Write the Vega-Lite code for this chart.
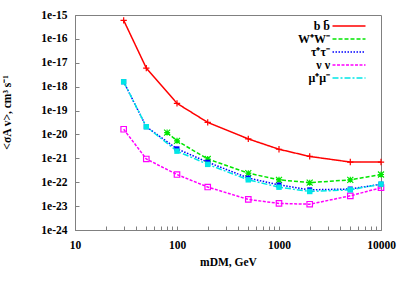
{
  "$schema": "https://vega.github.io/schema/vega-lite/v6.json",
  "width": 306,
  "height": 215,
  "autosize": "none",
  "padding": {"left": 75, "top": 15, "right": 22, "bottom": 53},
  "background": "white",
  "config": {
    "font": "Liberation Serif",
    "view": {"stroke": "#808080", "strokeWidth": 1},
    "axis": {
      "labelFont": "Liberation Serif",
      "labelFontWeight": "bold",
      "labelFontSize": 11.5,
      "labelColor": "black",
      "titleFont": "Liberation Serif",
      "titleFontWeight": "bold",
      "titleFontSize": 11.5,
      "titleColor": "black",
      "grid": false,
      "domainColor": "#808080",
      "tickColor": "#808080",
      "tickSize": -4
    },
    "legend": {
      "labelFont": "Liberation Serif",
      "labelFontWeight": "bold",
      "labelFontSize": 12.5,
      "labelColor": "black"
    }
  },
  "encoding": {
    "x": {
      "field": "m", "type": "quantitative",
      "scale": {"type": "log", "domain": [10, 10000], "nice": false},
      "axis": {
        "title": "mDM, GeV",
        "values": [10,20,30,40,50,60,70,80,90,100,200,300,400,500,600,700,800,900,1000,2000,3000,4000,5000,6000,7000,8000,9000,10000],
        "labelExpr": "indexof([10,100,1000,10000], datum.value) >= 0 ? datum.label : ''",
        "format": "d",
        "labelPadding": 13,
        "titlePadding": 6,
        "labelFlush": false
      }
    },
    "y": {
      "field": "sv", "type": "quantitative",
      "scale": {"type": "log", "domain": [1e-24, 1e-15], "nice": false},
      "axis": {
        "title": "<σA v>, cm³ s⁻¹",
        "values": [1e-24,1e-23,1e-22,1e-21,1e-20,1e-19,1e-18,1e-17,1e-16,1e-15],
        "labelExpr": "'1e' + round(log(datum.value) / LN10)",
        "labelPadding": 12,
        "titleX": -63,
        "titleY": 97,
        "labelFlush": false
      }
    }
  },
  "data": {
    "values": [
      {"channel": "b b̄", "m": 30, "sv": 6e-16},
      {"channel": "b b̄", "m": 50, "sv": 6e-18},
      {"channel": "b b̄", "m": 100, "sv": 2e-19},
      {"channel": "b b̄", "m": 200, "sv": 3.2e-20},
      {"channel": "b b̄", "m": 500, "sv": 6.5e-21},
      {"channel": "b b̄", "m": 1000, "sv": 2.4e-21},
      {"channel": "b b̄", "m": 2000, "sv": 1.2e-21},
      {"channel": "b b̄", "m": 5000, "sv": 7e-22},
      {"channel": "b b̄", "m": 10000, "sv": 7e-22},
      {"channel": "W⁺W⁻", "m": 80, "sv": 1.2e-20},
      {"channel": "W⁺W⁻", "m": 100, "sv": 5.4e-21},
      {"channel": "W⁺W⁻", "m": 200, "sv": 9.4e-22},
      {"channel": "W⁺W⁻", "m": 500, "sv": 2.4e-22},
      {"channel": "W⁺W⁻", "m": 1000, "sv": 1.26e-22},
      {"channel": "W⁺W⁻", "m": 2000, "sv": 9.6e-23},
      {"channel": "W⁺W⁻", "m": 5000, "sv": 1.26e-22},
      {"channel": "W⁺W⁻", "m": 10000, "sv": 2.1e-22},
      {"channel": "τ⁺τ⁻", "m": 30, "sv": 1.6e-18},
      {"channel": "τ⁺τ⁻", "m": 50, "sv": 2.1e-20},
      {"channel": "τ⁺τ⁻", "m": 100, "sv": 2.5e-21},
      {"channel": "τ⁺τ⁻", "m": 200, "sv": 6.9e-22},
      {"channel": "τ⁺τ⁻", "m": 500, "sv": 1.5e-22},
      {"channel": "τ⁺τ⁻", "m": 1000, "sv": 7.7e-23},
      {"channel": "τ⁺τ⁻", "m": 2000, "sv": 4.8e-23},
      {"channel": "τ⁺τ⁻", "m": 5000, "sv": 5.2e-23},
      {"channel": "τ⁺τ⁻", "m": 10000, "sv": 8.3e-23},
      {"channel": "ν ν", "m": 30, "sv": 1.65e-20},
      {"channel": "ν ν", "m": 50, "sv": 9.4e-22},
      {"channel": "ν ν", "m": 100, "sv": 2.1e-22},
      {"channel": "ν ν", "m": 200, "sv": 6.3e-23},
      {"channel": "ν ν", "m": 500, "sv": 1.9e-23},
      {"channel": "ν ν", "m": 1000, "sv": 1.3e-23},
      {"channel": "ν ν", "m": 2000, "sv": 1.2e-23},
      {"channel": "ν ν", "m": 5000, "sv": 2.7e-23},
      {"channel": "ν ν", "m": 10000, "sv": 5.9e-23},
      {"channel": "μ⁺μ⁻", "m": 30, "sv": 1.6e-18},
      {"channel": "μ⁺μ⁻", "m": 50, "sv": 2.1e-20},
      {"channel": "μ⁺μ⁻", "m": 100, "sv": 2e-21},
      {"channel": "μ⁺μ⁻", "m": 200, "sv": 5.6e-22},
      {"channel": "μ⁺μ⁻", "m": 500, "sv": 1.26e-22},
      {"channel": "μ⁺μ⁻", "m": 1000, "sv": 6.2e-23},
      {"channel": "μ⁺μ⁻", "m": 2000, "sv": 4.1e-23},
      {"channel": "μ⁺μ⁻", "m": 5000, "sv": 4.8e-23},
      {"channel": "μ⁺μ⁻", "m": 10000, "sv": 8.3e-23}
    ]
  },
  "layer": [
    {
      "mark": {"type": "line", "strokeWidth": 1.5},
      "encoding": {
        "color": {
          "field": "channel", "type": "nominal",
          "sort": ["b b̄", "W⁺W⁻", "τ⁺τ⁻", "ν ν", "μ⁺μ⁻"],
          "scale": {"domain": ["b b̄", "W⁺W⁻", "τ⁺τ⁻", "ν ν", "μ⁺μ⁻"], "range": ["#ff0000", "#00e600", "#0000ff", "#ff00ff", "#00e6e6"]},
          "legend": {
            "title": null,
            "orient": "none",
            "legendX": 266,
            "legendY": 3,
            "padding": 2,
            "symbolType": "M-3.3,0L3.3,0",
            "symbolSize": 100,
            "symbolStrokeWidth": 1.5,
            "rowPadding": 1,
            "labelFontSize": 12,
            "labelAlign": "right",
            "labelOffset": -25
          }
        },
        "strokeDash": {
          "field": "channel", "type": "nominal",
          "sort": ["b b̄", "W⁺W⁻", "τ⁺τ⁻", "ν ν", "μ⁺μ⁻"],
          "scale": {"domain": ["b b̄", "W⁺W⁻", "τ⁺τ⁻", "ν ν", "μ⁺μ⁻"], "range": [[1, 0], [4, 2], [1.5, 1.5], [3, 1.5], [6, 2, 2, 2]]},
          "legend": null
        }
      }
    },
    {
      "transform": [{"filter": {"field": "channel", "equal": "b b̄"}}],
      "mark": {"type": "point", "shape": "M-1,0L1,0M0,-1L0,1", "size": 40, "stroke": "#ff0000", "strokeWidth": 1.2, "fill": null, "opacity": 1}
    },
    {
      "transform": [{"filter": {"field": "channel", "equal": "W⁺W⁻"}}],
      "mark": {"type": "point", "shape": "M-1,-1L1,1M-1,1L1,-1M-1,0L1,0M0,-1L0,1", "size": 36, "stroke": "#00e600", "strokeWidth": 1.2, "fill": null, "opacity": 1}
    },
    {
      "transform": [{"filter": {"field": "channel", "equal": "τ⁺τ⁻"}}],
      "mark": {"type": "point", "shape": "square", "size": 25, "filled": true, "color": "#0000ff", "opacity": 1}
    },
    {
      "transform": [{"filter": {"field": "channel", "equal": "ν ν"}}],
      "mark": {"type": "point", "shape": "square", "size": 30, "filled": false, "color": "#ff00ff", "strokeWidth": 1.2, "opacity": 1}
    },
    {
      "transform": [{"filter": {"field": "channel", "equal": "μ⁺μ⁻"}}],
      "mark": {"type": "point", "shape": "square", "size": 30, "filled": true, "color": "#00e6e6", "opacity": 1}
    }
  ]
}
